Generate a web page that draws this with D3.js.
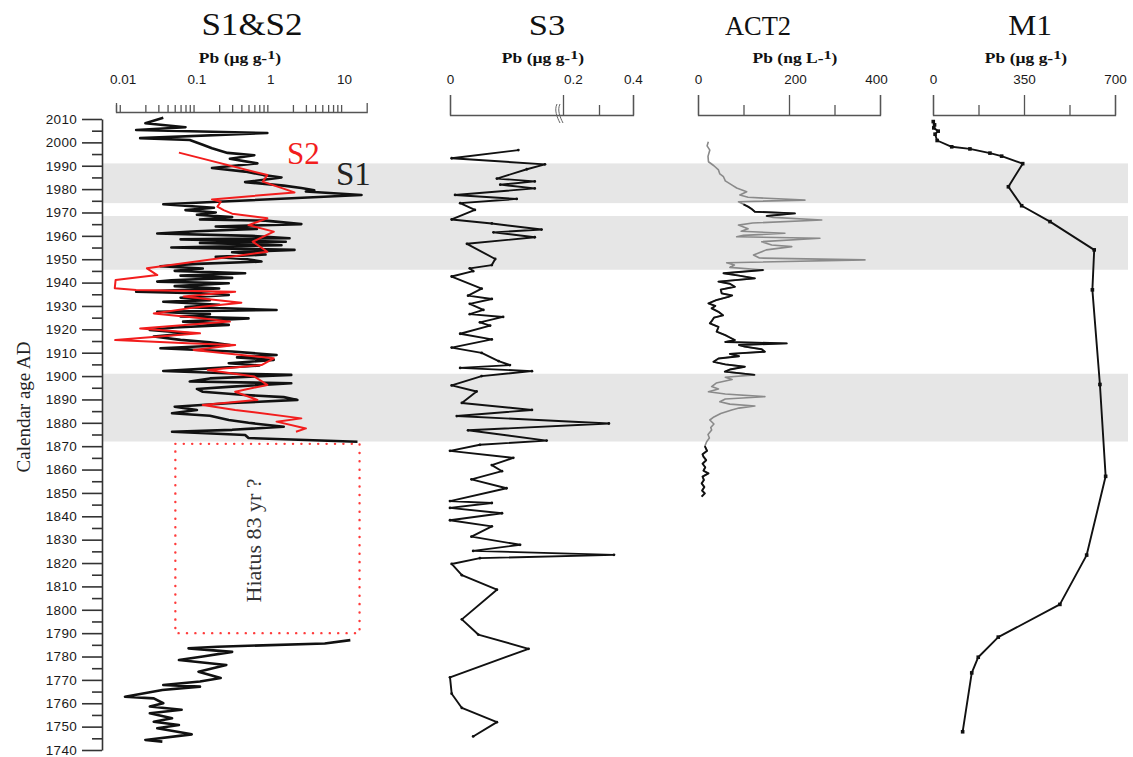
<!DOCTYPE html>
<html><head><meta charset="utf-8">
<script src="https://cdn.jsdelivr.net/npm/d3@7"></script>
<style>body{margin:0;background:#fff}svg{display:block}</style>
</head><body><svg id="c" width="1133" height="757"></svg>
<script>
// ---------- data ----------
const yTicks = [1740,1750,1760,1770,1780,1790,1800,1810,1820,1830,1840,1850,1860,1870,1880,1890,1900,1910,1920,1930,1940,1950,1960,1970,1980,1990,2000,2010];
const bands = [[1974,1991],[1945.5,1968.5],[1872,1901]];

const s1Years = [2010.5,2008.2,2006.5,2005.3,2004.0,2001.8,2001.0,1999.0,1997.5,1995.5,1994.5,1993.0,1991.0,1989.0,1987.5,1986.0,1985.0,1983.0,1981.5,1980.5,1979.5,1979.0,1977.5,1973.5,1972.0,1971.0,1970.0,1969.0,1968.0,1967.0,1966.5,1965.0,1964.0,1963.0,1962.0,1961.0,1960.0,1959.0,1958.5,1957.5,1957.0,1956.0,1955.0,1954.0,1953.0,1952.0,1951.0,1950.0,1949.0,1948.0,1947.0,1946.0,1945.0,1944.0,1943.0,1942.0,1941.0,1940.4,1939.7,1938.5,1937.5,1936.1,1935.5,1934.7,1933.5,1932.5,1931.8,1930.5,1929.5,1928.3,1927.5,1926.5,1925.5,1924.7,1923.3,1921.9,1920.8,1919.7,1918.3,1916.9,1915.5,1914.5,1913.3,1911.9,1910.5,1909.0,1908.0,1906.9,1905.5,1904.5,1903.5,1902.2,1901.0,1900.5,1899.0,1897.7,1896.9,1895.5,1894.5,1893.3,1892.0,1891.0,1889.8,1888.5,1886.9,1885.5,1884.1,1883.0,1881.2,1880.0,1878.3,1877.0,1876.2,1874.8,1873.5,1871.9,
  1830,
  1787.0,1785.6,1784.2,1783.5,1782.0,1780.0,1778.5,1776.4,1773.5,1770.8,1769.3,1767.8,1767.1,1765.7,1762.8,1762.1,1760.0,1758.6,1757.2,1755.7,1753.6,1752.1,1750.7,1749.3,1746.7,1744.3,1743.6];
const s1Pb = [0.035,0.02,0.07,0.015,0.9,0.017,0.08,0.12,0.16,0.26,0.6,0.28,0.66,0.16,0.45,0.8,1.4,0.45,1.5,2.6,3.9,3.0,17,0.035,0.17,0.07,0.18,0.1,0.3,0.11,0.85,2.6,0.18,0.65,0.1,0.029,0.55,1.8,0.06,1.6,0.11,1.4,0.045,2.1,0.3,0.85,0.18,0.48,0.75,0.1,0.032,0.12,0.05,0.45,0.06,0.3,0.045,0.029,0.27,0.05,0.2,0.015,0.1,0.27,0.06,0.15,0.035,0.2,0.07,1.2,0.029,0.15,0.06,0.5,0.065,0.27,0.05,0.023,0.08,0.026,0.06,0.15,0.28,0.032,0.3,1.2,0.35,1.1,0.27,0.7,0.2,0.035,0.4,1.9,0.15,0.08,1.9,0.3,0.1,0.12,0.4,1.5,2.3,0.3,0.05,0.1,0.046,0.15,0.27,0.5,1.5,0.3,0.046,0.45,0.5,15,
  null,
  12,5.4,0.19,0.077,0.3,0.12,0.057,0.25,0.105,0.21,0.11,0.035,0.11,0.034,0.0106,0.026,0.035,0.023,0.062,0.023,0.046,0.026,0.057,0.029,0.085,0.02,0.034];

const s2Years = [1995.6,1986.0,1983.2,1978.6,1975.6,1974.6,1972.5,1971.0,1969.5,1967.5,1964.6,1961.8,1957.5,1953.2,1946.1,1943.2,1941.1,1937.6,1936.8,1936.1,1934.0,1931.4,1929.5,1926.8,1925.0,1923.3,1920.4,1918.3,1915.4,1914.0,1913.3,1911.2,1907.6,1904.7,1902.6,1899.8,1896.2,1893.3,1889.8,1887.6,1885.5,1881.9,1880.5,1877.6,1876.2];
const s2Pb = [0.057,0.9,0.78,2.1,0.16,0.21,0.19,0.23,0.3,0.9,0.5,1.1,0.57,0.9,0.021,0.029,0.0079,0.0077,0.015,0.33,0.066,0.4,0.1,0.026,0.1,0.28,0.017,0.11,0.0078,0.075,0.33,0.09,1.1,0.75,0.14,0.6,0.9,0.33,0.66,0.12,0.33,2.6,1.2,3.0,2.2];

const hiatusYears = [1790,1871];
const hiatusPb = [0.051,16];

const s3Years = [1996.7,1993.2,1990.6,1988.5,1984.5,1983.3,1981.9,1980.3,1977.5,1975.8,1974.0,1971.1,1967.0,1965.3,1962.7,1961.5,1959.4,1956.6,1950.1,1947.5,1946.1,1944.9,1942.6,1937.4,1934.4,1933.0,1930.9,1928.3,1926.5,1925.3,1923.0,1921.6,1918.1,1915.7,1912.2,1909.9,1906.4,1904.7,1903.5,1902.1,1900.0,1896.0,1893.4,1888.5,1885.5,1882.9,1879.7,1876.8,1872.4,1870.6,1868.0,1865.0,1861.9,1859.3,1855.8,1852.0,1846.5,1845.7,1843.6,1841.3,1838.3,1835.7,1831.3,1827.8,1825.2,1823.5,1822.1,1819.6,1814.8,1808.6,1795.9,1789.4,1783.3,1771.1,1764.1,1758.0,1751.9,1745.8];
const s3Pb = [0.121,0.003,0.168,0.136,0.083,0.15,0.089,0.15,0.009,0.118,0.018,0.044,0.003,0.074,0.162,0.077,0.15,0.03,0.08,0.074,0.035,0.041,0.003,0.056,0.032,0.074,0.035,0.059,0.035,0.094,0.053,0.071,0.018,0.074,0.003,0.056,0.086,0.106,0.018,0.145,0.056,0.003,0.047,0.021,0.145,0.012,0.329,0.032,0.171,0.053,0.0,0.112,0.074,0.092,0.038,0.1,0.0,0.074,0.0,0.092,0.0,0.074,0.038,0.124,0.041,0.344,0.053,0.003,0.021,0.083,0.021,0.05,0.139,0.0,0.003,0.021,0.083,0.041];
const s3TickLabels = ['0','0.2','0.4'];

const actYears = [2000.3,1998.5,1996.7,1994,1991.7,1990,1988.2,1986.5,1985.3,1983.5,1981.8,1980.5,1978.9,1977.5,1976.5,1975.3,1974.6,1973.5,1972.5,1971.5,1970.3,1969.6,1968.5,1967.9,1966.8,1965.5,1964.6,1963,1962,1961.1,1960.2,1959.6,1959.0,1957.5,1956.1,1955.4,1954,1951.8,1950.5,1949.7,1948.5,1947.5,1946.5,1945.4,1944.0,1943,1941.8,1940.4,1939.5,1938.2,1937,1935.4,1934.5,1933.9,1932.5,1931.1,1930,1929,1927.5,1926,1925,1923.5,1922.6,1921,1919,1917.5,1916.5,1915.4,1914.6,1914.0,1913.3,1912.6,1911.5,1910.4,1909.5,1908.5,1907.5,1906.1,1905,1904.0,1902.8,1901.9,1900.5,1899.5,1898.5,1897,1895.5,1894.5,1893.3,1892.3,1891.2,1890.2,1889.0,1888,1887.2,1886.3,1885.5,1884,1882.5,1881.2,1879.5,1878,1876.9,1875,1873.5,1871.9,1870,1868,1866.5,1865.5,1864,1862.5,1861,1859.5,1858.4,1857,1855.5,1854.1,1852.5,1851,1849.8,1848.4];
const actPb = [22.7,20,26,22,23,35,45,48,56,60,74,85,107,92,110,235,89,100,110,118,125,213,150,165,272,120,89,110,95,191,100,85,268,140,162,206,150,122,135,367,63,80,70,144,56,90,125,45,70,81,50,52,75,67,40,23,38,30,45,55,35,30,26,45,41,60,70,81,60,195,90,103,140,147,70,90,45,34,60,103,70,59,125,60,75,40,30,45,23,60,147,60,48,70,125,90,74,50,35,26,35,28,30,22,25,19,15,20,10,12,18,10,16,12,23,10,13,8,14,9,15,8];
const actDarkSpans = [[1968.5,1973.5],[1900,1946],[1846,1870]];

const m1Years = [2008.9,2007.5,2006.2,2004.8,2003.5,2000.8,1998.1,1997.2,1995.4,1994.1,1990.9,1981.0,1972.9,1966.1,1954.0,1936.9,1896.4,1857.1,1823.4,1802.3,1788.3,1779.7,1773.0,1747.8];
const m1Pb = [1,6,3,20,8,16,72,142,219,264,345,290,341,450,620,613,642,664,591,488,251,174,149,114];

// ---------- scales ----------
const svg = d3.select('#c');
const y = d3.scaleLinear().domain([1740,2010]).range([750,119]);
const xS1 = d3.scaleLog().domain([0.008,20]).range([116,366.7]);
const xS3 = d3.scaleLinear().domain([0,0.2,0.3,0.4]).range([450,563,599,633]);
const xAct = d3.scaleLinear().domain([0,400]).range([698,880]);
const xM1 = d3.scaleLinear().domain([0,700]).range([933,1115]);

const sans = "'Liberation Sans', Arial, sans-serif";
const serif = "'Liberation Serif', 'Times New Roman', serif";

// bands
svg.append('g').selectAll('rect').data(bands).join('rect')
  .attr('x',103).attr('width',1025)
  .attr('y',d=>y(d[1])).attr('height',d=>y(d[0])-y(d[1]))
  .attr('fill','#e6e6e6');

// y axis
const gy = svg.append('g').attr('transform','translate(102,0)');
gy.call(d3.axisLeft(y).tickValues(yTicks).tickFormat(d3.format('d')).tickSize(20).tickSizeOuter(0).tickPadding(5));
gy.append('g').call(d3.axisLeft(y).tickValues(d3.range(1745,2010,10)).tickSize(10).tickFormat(''))
  .select('.domain').remove();
gy.selectAll('path,line').attr('stroke','#333').attr('stroke-width',1.6);
gy.selectAll('text').attr('font-family',sans).attr('font-size',13.5).attr('fill','#1a1a1a').style('letter-spacing','0.3px');

svg.append('text').attr('transform','translate(30,407) rotate(-90)')
  .attr('text-anchor','middle').attr('font-family',serif).attr('font-size',19).attr('fill','#222')
  .text('Calendar age AD');

// top axes helper
function styleAxis(g){
  g.selectAll('path,line').attr('stroke','#555').attr('stroke-width',1.3);
  g.selectAll('text').attr('font-family',sans).attr('font-size',13.5).attr('fill','#1a1a1a');
}
// S1 log axis
const s1Minor = [];
[0.001,0.01,0.1,1].forEach(dec=>{for(let k=2;k<=9;k++){const v=k*dec; if(v>=0.008&&v<=20) s1Minor.push(v);}});
const gA1 = svg.append('g').attr('transform','translate(0,112)')
  .call(d3.axisTop(xS1).tickValues(s1Minor).tickSize(7).tickSizeOuter(9).tickFormat(''));
styleAxis(gA1);
const s1Labels = [0.01,0.1,1,10];
svg.append('g').selectAll('text').data(s1Labels).join('text')
  .attr('x',d=>xS1(d)).attr('y',84).attr('text-anchor','middle')
  .attr('font-family',sans).attr('font-size',13.5).attr('fill','#1a1a1a').text(d=>d);

// S3 axis
const gA3 = svg.append('g').attr('transform','translate(0,115)')
  .call(d3.axisTop(xS3).tickValues([0,0.2,0.4]).tickFormat((d,i)=>s3TickLabels[i]).tickSize(20).tickSizeOuter(20).tickPadding(11));
gA3.append('g').call(d3.axisTop(xS3).tickValues([0.3]).tickSize(10).tickFormat('')).select('.domain').remove();
styleAxis(gA3);
gA3.selectAll('.tick text').filter(d=>d===0.2).attr('dx',10);
// small artefact at 0.2 tick
svg.append('path').attr('d','M557,104 C554,110 557,117 560,123 M560,104 C557,110 560,117 563,123')
  .attr('fill','none').attr('stroke','#666').attr('stroke-width',1);

// ACT2 axis
const gA4 = svg.append('g').attr('transform','translate(0,115)')
  .call(d3.axisTop(xAct).tickValues([0,200,400]).tickSize(20).tickSizeOuter(20).tickPadding(11));
gA4.append('g').call(d3.axisTop(xAct).tickValues([100,300]).tickSize(10).tickFormat('')).select('.domain').remove();
styleAxis(gA4);
gA4.selectAll('.tick text').filter(d=>d===200).attr('dx',6);
gA4.selectAll('.tick text').filter(d=>d===400).attr('dx',-4);

// M1 axis
const gA5 = svg.append('g').attr('transform','translate(0,115)')
  .call(d3.axisTop(xM1).tickValues([0,350,700]).tickSize(20).tickSizeOuter(20).tickPadding(11));
gA5.append('g').call(d3.axisTop(xM1).tickValues([175,525]).tickSize(10).tickFormat('')).select('.domain').remove();
styleAxis(gA5);

// titles
const titles = [
  {t:'S1&S2', cx:252, fs:31, sx:1.13},
  {t:'S3', cx:547, fs:30, sx:1.15},
  {t:'ACT2', cx:758, fs:27, sx:0.98},
  {t:'M1', cx:1030, fs:30, sx:1.05}
];
titles.forEach(d=>{
  svg.append('text').attr('transform',`translate(${d.cx},35) scale(${d.sx},1)`)
    .attr('text-anchor','middle').attr('font-family',serif).attr('font-size',d.fs).attr('fill','#111').text(d.t);
});
const subs = [
  {a:'Pb (\u00b5g g-', cx:240},
  {a:'Pb (\u00b5g g-', cx:543},
  {a:'Pb (ng L-', cx:795},
  {a:'Pb (\u00b5g g-', cx:1026}
];
subs.forEach(d=>{
  const t = svg.append('text').attr('transform',`translate(${d.cx},63) scale(1.25,1)`)
    .attr('text-anchor','middle').attr('font-family',serif).attr('font-weight','bold').attr('font-size',14).attr('fill','#111');
  t.append('tspan').text(d.a);
  t.append('tspan').attr('dy',-4).attr('font-size',13).text('1');
  t.append('tspan').attr('dy',4).text(')');
});

// hiatus box
svg.append('rect')
  .attr('x',xS1(hiatusPb[0])).attr('width',xS1(hiatusPb[1])-xS1(hiatusPb[0]))
  .attr('y',y(hiatusYears[1])).attr('height',y(hiatusYears[0])-y(hiatusYears[1]))
  .attr('fill','none').attr('stroke','#ff3b3b').attr('stroke-width',2.4)
  .attr('stroke-dasharray','0.1 8.3').attr('stroke-linecap','round');
svg.append('text').attr('transform',`translate(261,${(y(hiatusYears[0])+y(hiatusYears[1]))/2+2}) rotate(-90)`)
  .attr('text-anchor','middle').attr('font-family',serif).attr('font-size',20).attr('fill','#333')
  .attr('textLength',124).attr('lengthAdjust','spacingAndGlyphs')
  .text('Hiatus 83 yr ?');

// lines
const s1 = s1Years.map((yr,i)=>({yr,v:s1Pb[i]}));
const s2 = s2Years.map((yr,i)=>({yr,v:s2Pb[i]}));
const s3 = s3Years.map((yr,i)=>({yr,v:s3Pb[i]}));
const act = actYears.map((yr,i)=>({yr,v:actPb[i]}));
const m1 = m1Years.map((yr,i)=>({yr,v:m1Pb[i]}));

const lineFor = xs => d3.line().defined(d=>d.v!=null).x(d=>xs(d.v)).y(d=>y(d.yr));

svg.append('path').datum(s1).attr('d',lineFor(xS1)).attr('fill','none')
  .attr('stroke','#111').attr('stroke-width',2.6).attr('stroke-linejoin','round');
svg.append('path').datum(s2).attr('d',lineFor(xS1)).attr('fill','none')
  .attr('stroke','#f21d1d').attr('stroke-width',2).attr('stroke-linejoin','round');

svg.append('text').attr('x',287).attr('y',164).attr('font-family',serif).attr('font-size',31).attr('fill','#f21d1d').text('S2');
svg.append('text').attr('x',336).attr('y',185).attr('font-family',serif).attr('font-size',33).attr('fill','#222').text('S1');

svg.append('path').datum(s3).attr('d',lineFor(xS3)).attr('fill','none')
  .attr('stroke','#111').attr('stroke-width',1.9).attr('stroke-linejoin','round');
svg.append('g').selectAll('circle').data(s3).join('circle')
  .attr('cx',d=>xS3(d.v)).attr('cy',d=>y(d.yr)).attr('r',1.4).attr('fill','#111');

svg.append('path').datum(act).attr('d',lineFor(xAct)).attr('fill','none')
  .attr('stroke','#8a8a8a').attr('stroke-width',1.6).attr('stroke-linejoin','round');
actDarkSpans.forEach(sp=>{
  svg.append('path').datum(act.filter(d=>d.yr>=sp[0]&&d.yr<=sp[1])).attr('d',lineFor(xAct)).attr('fill','none')
    .attr('stroke','#111').attr('stroke-width',1.9).attr('stroke-linejoin','round');
});

svg.append('path').datum(m1).attr('d',lineFor(xM1)).attr('fill','none')
  .attr('stroke','#111').attr('stroke-width',1.9).attr('stroke-linejoin','round');
svg.append('g').selectAll('rect').data(m1).join('rect')
  .attr('x',d=>xM1(d.v)-1.8).attr('y',d=>y(d.yr)-1.8).attr('width',3.6).attr('height',3.6).attr('fill','#111');
</script>
</body></html>
